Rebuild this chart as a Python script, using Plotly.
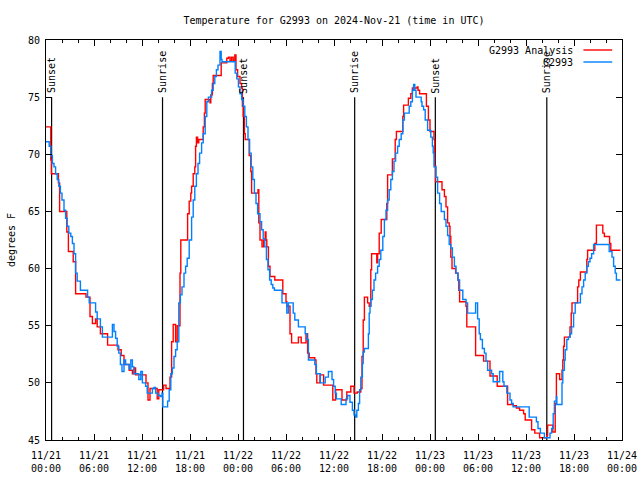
import pandas as pd
import plotly.graph_objects as go

BASE = pd.Timestamp("2024-11-21 00:00")

# G2993 Analysis (red) - hours after 11/21 00:00 UTC, degrees F
red_hours = [0.0, 0.6, 0.67, 1.55, 1.7, 2.6, 2.8, 3.4, 3.7, 5.0, 5.5, 5.8, 6.2, 6.4, 6.8, 7.7,
             9.0, 9.4, 9.75, 10.4, 10.8, 11.0, 11.2, 12.5, 12.75, 13.0, 13.9, 14.1, 14.7, 15.0,
             15.5, 15.7, 15.9, 16.2, 16.4, 16.75, 16.85, 17.7, 17.9, 18.1, 18.2, 18.4, 18.6,
             18.7, 18.8, 18.95, 19.1, 19.65, 19.8, 19.9, 20.5, 20.6, 20.8, 20.9, 21.9, 22.6,
             22.8, 23.0, 23.2, 23.4, 23.6, 23.75, 23.95, 24.25, 24.45, 24.55, 24.65, 24.8, 24.9,
             25.4, 25.6, 25.7, 26.5, 26.6, 26.75, 27.0, 27.2, 27.4, 27.5, 27.6, 27.8, 28.0,
             28.6, 29.6, 30.0, 30.1, 30.5, 30.7, 31.55, 31.9, 32.5, 32.7, 32.9, 33.6, 33.75,
             33.85, 34.25, 34.7, 35.85, 36.2, 37.0, 37.6, 38.1, 38.5, 38.9, 39.35, 39.5, 39.65,
             39.8, 40.2, 40.4, 40.6, 40.7, 41.35, 41.45, 41.65, 41.9, 42.6, 42.7, 43.3, 43.65,
             43.8, 44.6, 44.7, 45.3, 45.6, 45.8, 46.4, 46.5, 46.7, 47.55, 47.8, 48.0, 48.5,
             48.6, 48.7, 49.5, 49.8, 50.0, 50.2, 50.4, 50.5, 50.6, 50.75, 51.2, 51.5, 51.6,
             51.7, 52.5, 52.6, 53.7, 54.7, 55.5, 56.4, 57.7, 58.4, 58.8, 59.2, 59.7, 59.9,
             60.7, 61.1, 61.7, 62.6, 62.7, 63.35, 63.65, 63.8, 64.2, 64.5, 64.6, 64.7, 64.8,
             65.5, 65.65, 65.75, 66.45, 66.6, 66.8, 67.6, 67.7, 68.6, 68.8, 69.6, 69.8, 70.45,
             70.6, 71.8]
red_temps = [72.4, 69.5, 68.3, 67.5, 65.0, 63.2, 61.5, 60.6, 57.8, 57.5, 55.8, 55.2, 55.6, 54.9, 54.3, 53.3,
             52.9, 52.4, 51.6, 51.1, 50.8, 51.3, 50.7, 50.0, 48.5, 49.5, 48.6, 49.4, 49.8, 49.5,
             50.5, 53.6, 55.1, 53.6, 55.0, 59.6, 62.5, 64.8, 65.9, 66.6, 67.2, 68.3, 68.9,
             70.7, 71.5, 71.0, 71.3, 72.4, 73.6, 74.8, 74.5, 75.2, 76.2, 76.9, 78.0, 78.4,
             78.5, 78.2, 78.5, 78.2, 78.7, 77.4, 76.8, 76.2, 75.8, 74.2, 73.3, 71.8, 71.3,
             69.9, 68.5, 66.6, 66.9, 64.0, 62.5, 61.9, 62.5, 63.2, 62.5, 61.9, 60.2, 59.3,
             59.0, 57.8, 57.1, 56.7, 54.3, 53.5, 54.0, 53.5, 54.3, 52.6, 52.2, 52.0, 50.8,
             50.0, 50.7, 49.8, 48.5, 49.4, 48.5, 49.2, 49.7, 49.1, 49.2, 49.5, 52.3, 55.5,
             57.5, 57.0, 56.7, 59.9, 61.3, 60.5, 61.3, 63.1, 64.3, 65.7, 68.2, 69.6, 71.3,
             72.0, 73.3, 74.3, 74.9, 75.3, 75.8, 75.9, 75.6, 75.3, 74.2, 73.0, 72.0, 71.3,
             69.0, 67.6, 66.9, 66.3, 65.4, 64.0, 63.7, 62.8, 61.0, 60.0, 59.6, 59.0, 58.1,
             57.1, 56.7, 54.9, 52.4, 51.9, 50.6, 49.7, 48.1, 48.0, 47.8, 47.6, 47.3, 46.75,
             45.9, 45.6, 45.2, 45.4, 46.3, 45.7, 48.2, 50.8, 50.3, 51.1, 52.0, 53.2, 54.0,
             54.9, 56.1, 57.0, 58.4, 59.0, 59.7, 60.8, 61.6, 62.2, 63.8, 63.1, 62.8, 62.2,
             61.6, 61.6]

# G2993 observations (blue)
obs_hours = [0.0, 0.4, 0.6, 0.8, 1.0, 1.2, 1.4, 1.6, 1.8, 2.0, 2.25, 2.45, 2.65, 2.85, 3.1, 3.3,
             3.5, 3.7, 3.9, 4.3, 5.2, 5.4, 6.2, 6.4, 6.8, 7.05, 8.3, 8.5, 8.7, 8.9, 9.1, 9.3,
             9.5, 9.75, 9.95, 10.4, 10.6, 10.8, 11.0, 11.6, 11.85, 12.05, 12.45, 12.65, 13.3,
             13.5, 13.7, 14.0, 14.3, 14.5, 14.6, 15.2, 15.4, 15.6, 15.8, 16.0, 16.2, 16.4,
             16.6, 16.8, 17.0, 17.25, 17.45, 17.65, 17.9, 18.2, 18.4, 18.6, 18.8, 19.0, 19.2,
             19.45, 19.65, 19.9, 20.1, 20.3, 20.7, 20.9, 21.1, 21.3, 21.5, 21.75, 21.9, 22.0,
             23.65, 23.85, 24.05, 24.25, 24.45, 24.65, 24.85, 25.05, 25.25, 25.45, 25.65,
             25.85, 26.05, 26.25, 26.45, 26.75, 26.95, 27.15, 27.35, 27.55, 27.75, 27.95,
             28.15, 28.35, 28.55, 29.5, 30.1, 30.3, 30.9, 31.1, 31.55, 32.4, 32.6, 32.8, 33.6,
             33.8, 34.3, 34.9, 35.3, 35.75, 35.95, 36.15, 36.3, 36.9, 37.5, 37.7, 38.0, 38.3,
             38.5, 38.7, 38.85, 39.05, 39.2, 39.35, 39.55, 39.65, 39.8, 40.3, 40.4, 40.5,
             40.6, 40.8, 41.0, 41.2, 41.45, 41.65, 41.85, 42.1, 42.3, 42.5, 42.7, 42.9, 43.1,
             43.3, 43.5, 43.7, 43.95, 44.15, 44.4, 44.6, 44.8, 45.4, 45.6, 45.8, 45.95, 46.1,
             46.25, 46.9, 47.0, 47.2, 47.4, 47.7, 48.1, 48.3, 48.4, 48.5, 48.75, 48.95, 49.2,
             49.4, 49.8, 50.0, 50.2, 50.4, 50.6, 50.8, 51.05, 51.25, 51.5, 51.7, 52.1, 52.5,
             52.7, 53.7, 53.95, 54.15, 54.3, 54.55, 54.8, 55.0, 55.2, 55.7, 55.9, 56.7, 57.1,
             57.25, 57.6, 58.0, 58.2, 58.4, 60.4, 61.3, 61.5, 61.8, 62.3, 63.0, 63.2, 63.4,
             63.55, 63.8, 63.85, 64.5, 64.6, 64.8, 64.9, 65.1, 65.3, 65.5, 65.7, 65.95, 66.15,
             66.8, 67.0, 67.2, 67.4, 67.6, 67.8, 68.0, 68.2, 68.45, 70.4, 70.75, 70.95, 71.15,
             71.3, 71.8]
obs_temps = [71.1, 70.7, 69.9, 69.2, 68.9, 68.3, 67.8, 67.2, 66.6, 66.0, 65.1, 64.4, 63.7, 63.1, 62.8, 62.2,
             61.3, 59.6, 58.9, 58.1, 57.5, 57.0, 56.2, 55.6, 54.9, 54.0, 55.1, 54.5, 53.9, 53.2, 52.6, 51.6,
             51.0, 52.0, 51.6, 51.2, 52.0, 51.4, 50.8, 50.3, 51.0, 50.0, 49.7, 49.1, 49.5,
             49.6, 49.1, 48.9, 48.8, 49.1, 47.9, 48.4, 49.4, 50.8, 51.3, 52.3, 52.9, 53.6,
             57.0, 57.7, 58.4, 59.6, 60.2, 60.9, 62.5, 64.5, 66.0, 67.2, 68.3, 69.2, 70.1,
             71.0, 71.8, 73.3, 74.6, 75.0, 75.6, 76.2, 76.8, 77.4, 77.8, 79.0, 78.3, 78.1,
             77.1, 76.6, 75.9, 75.3, 74.8, 74.2, 73.3, 72.4, 71.3, 70.1, 68.9,
             67.8, 66.6, 65.7, 64.8, 64.1, 63.4, 62.6, 61.9, 60.8, 59.9, 59.0,
             58.6, 58.3, 58.1, 57.0, 56.1, 57.0, 56.1, 55.5, 54.9, 54.3, 53.8, 52.0, 51.6,
             50.8, 50.0, 50.5, 51.0, 50.3, 49.7, 49.1, 48.6, 48.1, 48.6, 48.9, 48.3, 47.6,
             47.2, 47.0, 47.6, 48.2, 49.4, 50.5, 51.7, 52.7, 53.0, 54.3, 56.1, 56.7,
             57.3, 58.1, 59.0, 59.6, 60.2, 60.8, 61.6, 62.8, 64.3, 65.1, 66.0, 66.9, 67.8,
             68.5, 69.4, 70.1, 70.7, 71.3, 71.8, 73.0, 73.6, 74.2, 74.6, 75.6, 76.1, 75.6,
             75.0, 74.6, 74.2, 73.9, 73.0, 72.1, 71.5, 70.7, 70.1, 68.9, 68.0, 66.6, 65.7,
             65.0, 64.3, 63.7, 62.9, 62.1, 61.8, 61.0, 60.2, 59.6, 59.0, 58.1, 57.3, 57.0,
             56.1, 57.0, 55.6, 54.3, 53.8, 53.0, 52.6, 51.9, 51.1, 50.8, 50.1, 51.0, 50.1,
             49.7, 49.1, 48.5, 48.2, 47.9, 47.0, 46.6, 46.0, 45.6, 45.2, 45.6, 46.0, 47.3,
             48.4, 48.8, 48.1, 50.0, 51.1, 52.0, 52.9, 53.8, 54.0, 54.3, 54.9, 56.1, 57.0,
             57.8, 58.4, 59.0, 59.6, 60.2, 60.6, 60.9, 61.3, 62.1, 61.5, 61.0, 60.2, 59.6,
             59.0, 59.0]

# Sun events (UTC)
sun_times = ["2024-11-21 00:42", "2024-11-21 14:34", "2024-11-22 00:41",
             "2024-11-22 14:35", "2024-11-23 00:40", "2024-11-23 14:36"]
sun_labels = ["Sunset", "Sunrise", "Sunset", "Sunrise", "Sunset", "Sunrise"]

# x tick labels
tick_times = pd.date_range("2024-11-21 00:00", "2024-11-24 00:00", freq="6h")
tick_text = [t.strftime("%m/%d") + "<br>" + t.strftime("%H:%M") for t in tick_times]

series_names = ["G2993 Analysis", "G2993"]
series_colors = ["#ff0000", "#0080ff"]

red_x = BASE + pd.to_timedelta(red_hours, unit="h")
obs_x = BASE + pd.to_timedelta(obs_hours, unit="h")

FONT = "DejaVu Sans Mono"

fig = go.Figure()
fig.add_trace(go.Scatter(x=red_x, y=red_temps, mode="lines", line_shape="hv",
                         line=dict(color=series_colors[0], width=1.4), name=series_names[0],
                         showlegend=False))
fig.add_trace(go.Scatter(x=obs_x, y=obs_temps, mode="lines", line_shape="hv",
                         line=dict(color=series_colors[1], width=1.4), name=series_names[1],
                         showlegend=False))

for t, lab in zip(sun_times, sun_labels):
    fig.add_shape(type="line", xref="x", yref="y", x0=t, x1=t, y0=45, y1=75,
                  line=dict(color="black", width=1.2), layer="below")
    fig.add_annotation(x=t, y=75.15, xref="x", yref="y", text=lab, textangle=-90,
                       showarrow=False, xanchor="center", yanchor="bottom",
                       font=dict(family=FONT, size=10, color="black"))

# gnuplot-like legend: text right-aligned, sample line to the right
leg_y = [0.975, 0.945]
for i, (nm, col) in enumerate(zip(series_names, series_colors)):
    fig.add_annotation(x=0.919, y=leg_y[i], xref="paper", yref="paper", text=nm,
                       showarrow=False, xanchor="right", yanchor="middle",
                       font=dict(family=FONT, size=10, color="black"))
    fig.add_shape(type="line", xref="paper", yref="paper", x0=0.933, x1=0.983,
                  y0=leg_y[i], y1=leg_y[i], line=dict(color=col, width=1.4))

fig.update_layout(
    width=640, height=480,
    margin=dict(l=46, r=18, t=40, b=40),
    paper_bgcolor="white", plot_bgcolor="white",
    font=dict(family=FONT, size=10, color="black"),
    title=dict(text="Temperature for G2993 on 2024-Nov-21 (time in UTC)",
               x=0.5, xref="paper", xanchor="center",
               y=1 - 20 / 480, yref="container", yanchor="middle",
               font=dict(family=FONT, size=10, color="black")),
    showlegend=False,
)
fig.update_xaxes(
    range=[tick_times[0], tick_times[-1]],
    tickvals=tick_times, ticktext=tick_text,
    showgrid=False, zeroline=False, automargin=False,
    showline=True, linecolor="black", linewidth=1, mirror="ticks",
    ticks="inside", ticklen=6, tickcolor="black", tickwidth=1,
    ticklabelstandoff=6,
    minor=dict(dtick=2 * 3600 * 1000, ticks="inside", ticklen=3, tickcolor="black", showgrid=False),
    tickfont=dict(family=FONT, size=10),
)
fig.update_yaxes(
    range=[45, 80], dtick=5, tick0=45,
    showgrid=False, zeroline=False, automargin=False,
    showline=True, linecolor="black", linewidth=1, mirror="ticks",
    ticks="inside", ticklen=6, tickcolor="black", tickwidth=1,
    ticklabelstandoff=3,
    tickfont=dict(family=FONT, size=10),
    title=dict(text="degrees F", standoff=10, font=dict(family=FONT, size=10)),
)

fig.write_html("out.html", config={"displayModeBar": False},
               post_script="document.body.style.margin='0';document.body.style.padding='0';")
